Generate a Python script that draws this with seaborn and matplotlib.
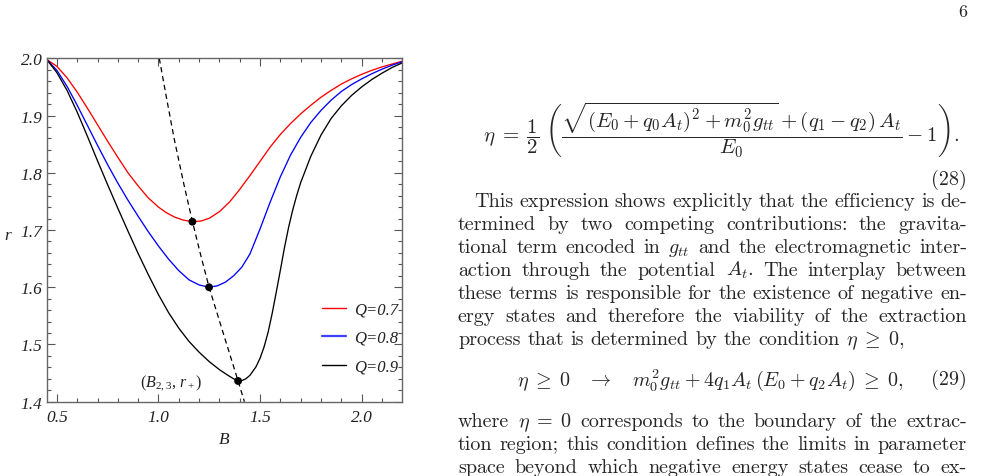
import numpy as np
import pandas as pd
import matplotlib
matplotlib.use("Agg")
import matplotlib.pyplot as plt
from matplotlib.ticker import MultipleLocator, FixedLocator
from matplotlib.lines import Line2D
import seaborn as sns

# ---------------- data ----------------
B_q07 = [0.45, 0.50, 0.55, 0.60, 0.65, 0.70, 0.75, 0.80, 0.85, 0.90, 0.95, 1.00, 1.04, 1.08, 1.12,
         1.167, 1.21, 1.25, 1.30, 1.35, 1.40, 1.45, 1.50, 1.55, 1.60, 1.65, 1.70, 1.75, 1.80, 1.85,
         1.90, 1.95, 2.00, 2.05, 2.10, 2.15, 2.20]
r_q07 = [1.998, 1.986, 1.966, 1.941, 1.913, 1.884, 1.855, 1.827, 1.800, 1.777, 1.756, 1.740, 1.730,
         1.7225, 1.7175, 1.7145, 1.7157, 1.7205, 1.732, 1.749, 1.771, 1.795, 1.820, 1.845, 1.867,
         1.886, 1.903, 1.918, 1.932, 1.944, 1.955, 1.964, 1.972, 1.979, 1.985, 1.990, 1.995]

B_q08 = [0.45, 0.50, 0.55, 0.60, 0.65, 0.70, 0.75, 0.80, 0.85, 0.90, 0.95, 1.00, 1.05, 1.10, 1.15,
         1.20, 1.249, 1.29, 1.33, 1.37, 1.41, 1.45, 1.50, 1.55, 1.60, 1.65, 1.70, 1.75, 1.80, 1.85,
         1.90, 1.95, 2.00, 2.05, 2.10, 2.15, 2.20]
r_q08 = [1.998, 1.979, 1.951, 1.918, 1.883, 1.848, 1.814, 1.782, 1.752, 1.724, 1.697, 1.672, 1.649,
         1.629, 1.613, 1.604, 1.600, 1.6025, 1.609, 1.620, 1.635, 1.658, 1.702, 1.749, 1.793, 1.831,
         1.862, 1.888, 1.909, 1.927, 1.942, 1.954, 1.964, 1.973, 1.981, 1.988, 1.994]

B_q09 = [0.45, 0.50, 0.55, 0.60, 0.65, 0.70, 0.75, 0.80, 0.85, 0.90, 0.95, 1.00, 1.05, 1.10, 1.15,
         1.20, 1.25, 1.30, 1.34, 1.37, 1.392, 1.41, 1.43, 1.45, 1.48, 1.50, 1.52, 1.54, 1.56, 1.58,
         1.60, 1.62, 1.64, 1.66, 1.68, 1.70, 1.75, 1.80, 1.85, 1.90, 1.95, 2.00, 2.05, 2.10, 2.15,
         2.20]
r_q09 = [1.998, 1.975, 1.944, 1.906, 1.864, 1.821, 1.779, 1.738, 1.698, 1.659, 1.622, 1.587, 1.5555,
         1.5285, 1.5055, 1.4865, 1.470, 1.456, 1.4465, 1.440, 1.4362, 1.4368, 1.440, 1.446, 1.461,
         1.476, 1.496, 1.522, 1.555, 1.592, 1.630, 1.669, 1.704, 1.734, 1.760, 1.783, 1.829, 1.866,
         1.895, 1.917, 1.935, 1.950, 1.963, 1.974, 1.984, 1.992]

# locus of minima (dashed)
B_locus = [1.004, 1.040, 1.077, 1.125, 1.167, 1.208, 1.249, 1.323, 1.392, 1.423]
r_locus = [2.000, 1.930, 1.860, 1.780, 1.715, 1.656, 1.600, 1.515, 1.436, 1.400]

# minima points (B_{2,3}, r_+)
B_min = [1.167, 1.249, 1.392]
r_min = [1.7145, 1.600, 1.4362]

labels = ["Q=0.7", "Q=0.8", "Q=0.9"]
colors = ["#ff0000", "#0000ff", "#000000"]
x_ticks = [0.5, 1.0, 1.5, 2.0]
x_ticklabels = ["0.5", "1.0", "1.5", "2.0"]
y_ticks = [1.4, 1.5, 1.6, 1.7, 1.8, 1.9, 2.0]
y_ticklabels = ["1.4", "1.5", "1.6", "1.7", "1.8", "1.9", "2.0"]

# ---------------- style ----------------
sns.set_style("white")
plt.rcParams["font.family"] = ["Liberation Serif", "DejaVu Serif"]
plt.rcParams["mathtext.fontset"] = "custom"
plt.rcParams["mathtext.rm"] = "Liberation Serif"
plt.rcParams["mathtext.it"] = "Liberation Serif:italic"
plt.rcParams["mathtext.bf"] = "Liberation Serif:bold"
plt.rcParams["lines.solid_joinstyle"] = "round"

W, H = 983, 477
fig = plt.figure(figsize=(W / 100, H / 100), dpi=100)
fig.patch.set_facecolor("white")

ax_l, ax_r, ax_t, ax_b = 46.7, 401.7, 59.3, 402.7
ax = fig.add_axes([ax_l / W, 1 - ax_b / H, (ax_r - ax_l) / W, (ax_b - ax_t) / H])

frames = []
for B, r, lab in zip([B_q07, B_q08, B_q09], [r_q07, r_q08, r_q09], labels):
    frames.append(pd.DataFrame({"B": B, "r": r, "Q": lab}))
df = pd.concat(frames, ignore_index=True)

sns.lineplot(data=df, x="B", y="r", hue="Q", palette=colors, estimator=None,
             sort=False, linewidth=0.95, ax=ax, legend=False)
sns.lineplot(x=B_locus, y=r_locus, sort=False, estimator=None, color="black",
             linewidth=0.9, linestyle=(0, (4.2, 3.0)), ax=ax)
sns.scatterplot(x=B_min, y=r_min, color="black", s=32, edgecolor="none", zorder=5, ax=ax)

ax.set_xlim(0.45, 2.197)
ax.set_ylim(1.4, 2.0)

ax.xaxis.set_major_locator(FixedLocator(x_ticks))
ax.set_xticklabels(x_ticklabels)
ax.yaxis.set_major_locator(FixedLocator(y_ticks))
ax.set_yticklabels(y_ticklabels)
ax.xaxis.set_minor_locator(MultipleLocator(0.1))
ax.yaxis.set_minor_locator(MultipleLocator(0.02))
ax.tick_params(which="both", direction="in", top=True, right=True, bottom=True, left=True,
               color="#555555", width=0.8)
ax.tick_params(which="major", length=5.5)
ax.tick_params(which="minor", length=3)
ax.tick_params(axis="y", which="major", pad=3, labelsize=12.5, labelcolor="#222222")
ax.tick_params(axis="x", which="major", pad=5, labelsize=12.5, labelcolor="#222222")
for lab in ax.get_xticklabels() + ax.get_yticklabels():
    lab.set_fontstyle("italic")
for s in ax.spines.values():
    s.set_color("#666666")
    s.set_linewidth(1.0)

ax.set_xlabel("B", fontsize=12.5, fontstyle="italic", color="#222222", va="center")
ax.set_ylabel("r", fontsize=12.5, fontstyle="italic", color="#222222", rotation=0,
              ha="center", va="center")
ax.xaxis.set_label_coords((224 - ax_l) / (ax_r - ax_l), (ax_b - 440) / (ax_b - ax_t))
ax.yaxis.set_label_coords((8 - ax_l) / (ax_r - ax_l), (ax_b - 236) / (ax_b - ax_t))

# legend
handles = [Line2D([0], [0], color=c, lw=1.0 if i != 1 else 1.6, alpha=1 if i != 1 else 0.75)
           for i, c in enumerate(colors)]
leg = ax.legend(handles, labels, loc="center left",
                bbox_to_anchor=((321.7 - ax_l) / (ax_r - ax_l), (ax_b - 339) / (ax_b - ax_t)),
                frameon=False, borderpad=0, borderaxespad=0, handlelength=1.45,
                handletextpad=0.5, labelspacing=0.75,
                prop={"family": "Liberation Serif", "style": "italic", "size": 12})
for t in leg.get_texts():
    t.set_color("#222222")

ax.text(1.062, 1.4344, r"$(B_{2,3},\, r_+)$", fontsize=11.5, ha="center", va="center",
        color="#222222")

# ---------------- page text on the right ----------------
def fx(x):
    return x / W

def fy(y):
    return 1 - y / H

fig.text(fx(967), fy(12), "6", family="cmr10", fontsize=13, ha="right", va="center")

eq28 = (r"$\eta\;=\;\dfrac{1}{2}\;\left(\dfrac{\sqrt{(E_0+q_0A_t)^2+m_0^2g_{tt}}"
        r"+(q_1-q_2)\,A_t}{E_0}-1\right).$")
fig.text(fx(721), fy(130), eq28, fontsize=15, math_fontfamily="cm", ha="center", va="center")
fig.text(fx(967), fy(180), "(28)", family="cmr10", fontsize=14.5, ha="right", va="center")

eq29 = r"$\eta\;\geq\;0\quad\rightarrow\quad m_0^2g_{tt}+4q_1A_t\,(E_0+q_2A_t)\;\geq\;0,$"
fig.text(fx(517), fy(380), eq29, fontsize=14.5, math_fontfamily="cm", ha="left", va="center")
fig.text(fx(967), fy(380), "(29)", family="cmr10", fontsize=14.5, ha="right", va="center")

rend = fig.canvas.get_renderer()

def put_line(text, y_base, x0=458, x1=967, indent=0, justify=True, size=14.5):
    words = text.split(" ")
    objs = [fig.text(0, 0, w, fontsize=size, family="cmr10", math_fontfamily="cm",
                     ha="left", va="baseline") for w in words]
    ws = [o.get_window_extent(renderer=rend).width for o in objs]
    if justify and len(words) > 1:
        gap = (x1 - x0 - indent - sum(ws)) / (len(words) - 1)
    else:
        gap = size * 1.389 * 0.333
    x = x0 + indent
    for o, w in zip(objs, ws):
        o.set_position((fx(x), fy(y_base)))
        x += w + gap

para = [
    ("This expression shows explicitly that the efficiency is de-", 207, 16, True),
    ("termined by two competing contributions: the gravita-", 230, 0, True),
    ("tional term encoded in $g_{tt}$ and the electromagnetic inter-", 253, 0, True),
    ("action through the potential $A_t$. The interplay between", 276, 0, True),
    ("these terms is responsible for the existence of negative en-", 299, 0, True),
    ("ergy states and therefore the viability of the extraction", 322, 0, True),
    ("process that is determined by the condition $\\eta\\;\\geq\\;0$,", 345, 0, False),
    ("where $\\eta\\;=\\;0$ corresponds to the boundary of the extrac-", 427, 0, True),
    ("tion region; this condition defines the limits in parameter", 450, 0, True),
    ("space beyond which negative energy states cease to ex-", 473, 0, True),
]
for txt, yb, ind, just in para:
    put_line(txt, yb, indent=ind, justify=just)

fig.savefig("out.png", dpi=100, facecolor="white")
